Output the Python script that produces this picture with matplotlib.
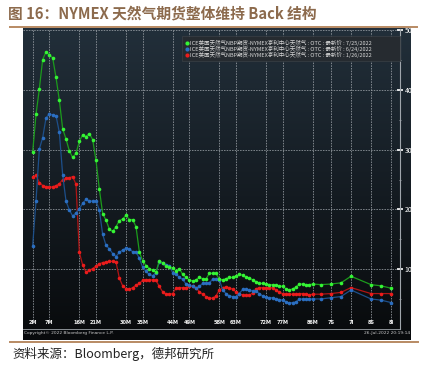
import numpy as np
import matplotlib
matplotlib.use("Agg")
import matplotlib.pyplot as plt
from matplotlib.patches import Rectangle
from matplotlib.lines import Line2D

plt.rcParams['font.family'] = ['Noto Sans CJK SC', 'DejaVu Sans']

# ---------------- data ----------------
months = list(range(2, 87))
later_x = [88.5, 91.5, 94.5, 97.5, 103.5, 106.5, 109.5]
contract_x = months + later_x

green_0725 = [29.6, 35.9, 40.2, 45.1, 46.4, 45.9, 45.4, 42.1, 38.3, 33.5,
              31.8, 29.8, 28.7, 29.4, 31.4, 32.5, 32.2, 32.7, 31.7, 28.2,
              23.4, 19.3, 18.2, 16.7, 16.3, 17.1, 18.1, 18.4, 19.0, 18.3,
              18.3, 17.1, 12.9, 11.4, 10.6, 10.1, 9.8, 9.5, 11.4, 11.0,
              10.5, 10.3, 10.2, 9.7, 10.1, 9.1, 8.6, 8.2, 8.0, 8.2,
              8.6, 8.4, 8.3, 9.3, 9.3, 9.3, 8.3, 8.2, 8.4, 8.6,
              8.6, 8.9, 9.1, 9.0, 8.6, 8.5, 8.2, 7.9, 7.6, 7.6,
              7.5, 7.4, 7.4, 7.3, 7.2, 7.1, 6.7, 6.5, 6.7, 7.0,
              7.5, 7.5, 7.4, 7.4, 7.5,
              7.4, 7.5, 7.7, 8.8, 7.4, 7.2, 6.8]
blue_0624 = [13.9, 21.4, 30.1, 32.0, 35.3, 36.0, 35.8, 35.7, 32.9, 25.8,
             21.4, 19.9, 18.9, 19.4, 20.1, 21.0, 21.7, 21.4, 21.4, 21.4,
             19.9, 15.8, 14.0, 13.4, 12.6, 12.1, 12.8, 13.2, 13.5, 13.4,
             12.9, 12.9, 11.8, 10.3, 9.6, 9.1, 8.9, 9.4, 11.2, 11.1,
             10.7, 10.6, 9.4, 9.2, 8.6, 8.3, 7.5, 7.3, 7.1, 6.8,
             7.1, 7.6, 7.6, 7.7, 8.3, 8.3, 8.2, 6.5, 5.9, 5.5,
             5.4, 5.4, 5.9, 6.6, 6.6, 6.5, 6.3, 6.3, 5.9, 5.5,
             5.3, 5.2, 5.2, 5.0, 4.9, 4.8, 4.5, 4.3, 4.4, 4.5,
             5.0, 5.0, 5.0, 5.0, 5.0,
             5.0, 5.2, 5.4, 6.5, 5.0, 4.8, 4.4]
red_0126 = [25.5, 25.7, 24.5, 24.0, 23.8, 23.7, 23.8, 24.0, 24.3, 25.0,
            25.2, 25.3, 25.5, 24.2, 12.8, 10.7, 9.5, 9.8, 10.1, 10.5,
            10.9, 11.1, 11.2, 11.3, 11.3, 11.2, 8.5, 7.2, 6.7, 6.6,
            6.9, 7.3, 7.6, 8.1, 8.2, 8.2, 8.2, 8.1, 7.1, 6.2,
            5.8, 5.8, 5.9, 6.8, 6.9, 6.9, 6.9, 7.1, 7.1, 6.9,
            6.2, 5.8, 5.4, 5.2, 5.1, 5.5, 6.5, 6.9, 7.0, 6.9,
            6.6, 6.2, 5.8, 5.7, 5.6, 5.6, 6.0, 6.7, 6.9, 6.9,
            6.9, 6.9, 6.9, 6.5, 6.1, 5.9, 5.8, 5.8, 5.8, 5.8,
            5.9, 5.9, 5.8, 5.7, 5.8,
            5.8, 5.9, 6.1, 6.9, 5.9, 5.9, 5.9]

tick_pos = [2, 7, 16, 21, 30, 35, 44, 49, 58, 63, 72, 77, 86, 91.5, 97.5, 103.5, 109.5]
tick_labels = ["2M", "7M", "16M", "21M", "30M", "35M", "44M", "49M", "58M", "63M",
               "72M", "77M", "86M", "7S", "7I", "8S", "8I"]
y_ticks = [10, 20, 30, 40, 50]

legend_base = "ICE英国天然气NBP期货-NYMEX亨利中心天然气 : OTC : 最新价 : "
series = [
    ("7/25/2022", green_0725, '#1c9c1c', '#35f535'),
    ("6/24/2022", blue_0624, '#1d4f8a', '#2b6fc2'),
    ("1/26/2022", red_0126, '#b01414', '#ec1c1c'),
]

# ---------------- figure ----------------
W, H = 428, 374
fig = plt.figure(figsize=(W / 100, H / 100), dpi=100)
fig.patch.set_facecolor('white')

def fx(px):
    return px / W

def fy(py):
    return 1 - py / H

# dark gradient background (Bloomberg screenshot)
bg = fig.add_axes([fx(23), fy(340), fx(411) - fx(23), fy(28) - fy(340)])
top = np.array([34, 47, 58]) / 255
bot = np.array([8, 10, 12]) / 255
t = np.linspace(0, 1, 256)[:, None]
grad = (top[None, :] * (1 - t) + bot[None, :] * t)[:, None, :]
grad = np.repeat(grad, 2, axis=1)
bg.imshow(grad, aspect='auto', extent=[0, 1, 0, 1], origin='upper')
bg.set_axis_off()

ax = fig.add_axes([fx(23), fy(328.8), fx(400) - fx(23), fy(28.5) - fy(328.8)])
ax.set_facecolor('none')
ax.set_xlim(-0.9, 112.2)
ax.set_ylim(0, 50.3)

for label, vals, lc, mc in series[::-1]:
    ax.plot(contract_x, vals, color=lc, lw=0.9, marker='o', ms=2.6,
            mfc=mc, mec=mc, mew=0, zorder=3)

# grid
for xp in tick_pos:
    ax.plot([xp, xp], [1.0, 50.3], color='#9aa0a6', lw=0.55,
            linestyle=(0, (2, 1.5)), zorder=1)
for yv in y_ticks:
    ax.axhline(yv, color='#9aa0a6', lw=0.55, linestyle=(0, (2, 1.5)), zorder=1)

for s in ['left', 'top']:
    ax.spines[s].set_visible(False)
ax.spines['right'].set_color('#a0a6ac')
ax.spines['right'].set_linewidth(0.8)
ax.spines['bottom'].set_color('#a0a6ac')
ax.spines['bottom'].set_linewidth(0.6)

ax.yaxis.tick_right()
ax.set_yticks(y_ticks)
ax.set_yticklabels([str(v) for v in y_ticks])
ax.set_yticks([5, 15, 25, 35, 45], minor=True)
ax.tick_params(axis='y', which='major', direction='inout', length=4, width=1.2,
               colors='white', labelsize=5, pad=1.5)
ax.tick_params(axis='y', which='minor', direction='inout', length=2, width=0.6,
               colors='#9aa0a6')
ax.set_xticks([])

trans = ax.get_xaxis_transform()
for xp, lab in zip(tick_pos, tick_labels):
    ax.text(xp, 0.012, lab, transform=trans, ha='center', va='bottom',
            fontsize=3.6, color='#f0f0f0', fontweight='bold', family=['DejaVu Sans'])

# legend box
fig.patches.append(Rectangle((fx(182), fy(61)), fx(400) - fx(182), fy(36) - fy(61),
                             transform=fig.transFigure, facecolor='#262b30',
                             edgecolor='#3a4046', lw=0.5, zorder=5))
row_y = [43.3, 49.0, 54.6]
for (label, vals, lc, mc), ry in zip(series, row_y):
    fig.add_artist(Line2D([fx(186.5)], [fy(ry)], marker='o', ms=3, mfc=mc,
                          mec=mc, mew=0, linestyle='none', zorder=6))
    fig.text(fx(190), fy(ry), legend_base + label, fontsize=4, color='#d8d8d8',
             ha='left', va='center', zorder=6)

# footer of screenshot
fig.text(fx(24), fy(333), "Copyright\u00a9 2022 Bloomberg Finance L.P.", fontsize=3.2,
         color='#c8c8c8', ha='left', va='center', family=['DejaVu Sans'])
fig.text(fx(410), fy(333), "26-Jul-2022 20:19:14", fontsize=3.2,
         color='#c8c8c8', ha='right', va='center', family=['DejaVu Sans'])

# brown rules
fig.add_artist(Line2D([fx(10), fx(417)], [fy(27), fy(27)], color='#b88a63', lw=1.4))
fig.add_artist(Line2D([fx(10), fx(418)], [fy(341.5), fy(341.5)], color='#b88a63', lw=1.4))

# title and source
fig.text(fx(8), fy(13.5), "图 16：NYMEX 天然气期货整体维持 Back 结构", fontsize=10.6,
         fontweight='bold', color='#8c6a4c', ha='left', va='center')
fig.text(fx(12), fy(354), "资料来源：Bloomberg，德邦研究所", fontsize=9.0,
         color='#222222', ha='left', va='center')

fig.savefig('out.png', dpi=100, facecolor='white')
